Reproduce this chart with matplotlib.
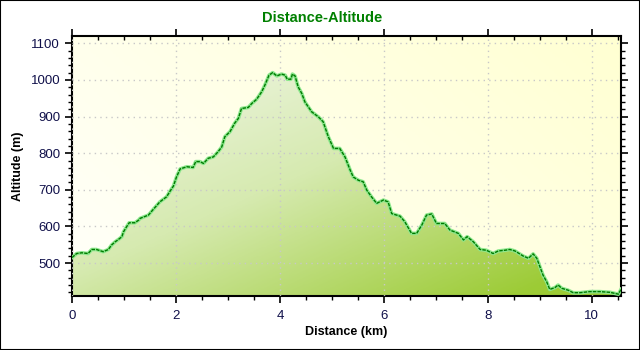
import matplotlib.pyplot as plt
import numpy as np
from matplotlib.colors import LinearSegmentedColormap
from matplotlib.patches import Polygon

# elevation profile: distance (km) and altitude (m)
distance = [0.0, 0.09, 0.19, 0.31, 0.38, 0.47, 0.60, 0.70, 0.76, 0.83, 0.89, 0.96,
            0.99, 1.05, 1.10, 1.21, 1.28, 1.31, 1.47, 1.56, 1.69, 1.82, 1.88, 1.95,
            2.01, 2.08, 2.21, 2.33, 2.38, 2.46, 2.53, 2.62, 2.72, 2.81, 2.88, 2.94,
            3.04, 3.13, 3.20, 3.26, 3.39, 3.46, 3.55, 3.65, 3.71, 3.79, 3.86, 3.94,
            4.03, 4.10, 4.14, 4.21, 4.24, 4.29, 4.35, 4.42, 4.48, 4.61, 4.74, 4.83,
            4.93, 5.03, 5.15, 5.25, 5.35, 5.41, 5.51, 5.60, 5.67, 5.76, 5.86, 5.99,
            6.08, 6.15, 6.31, 6.40, 6.53, 6.63, 6.73, 6.82, 6.92, 7.01, 7.17, 7.27,
            7.43, 7.53, 7.60, 7.72, 7.85, 7.97, 8.10, 8.20, 8.33, 8.42, 8.52, 8.68,
            8.78, 8.87, 8.94, 9.00, 9.06, 9.13, 9.19, 9.29, 9.35, 9.42, 9.54, 9.64,
            9.77, 9.96, 10.15, 10.35, 10.51, 10.56]
altitude = [515, 526, 528, 526, 537, 537, 531, 537, 549, 558, 564, 572,
            585, 599, 610, 610, 617, 622, 631, 646, 667, 681, 695, 710,
            735, 757, 763, 761, 777, 777, 772, 786, 790, 804, 817, 845,
            859, 882, 895, 922, 925, 936, 947, 968, 986, 1013, 1020, 1011,
            1016, 1013, 1002, 1002, 1016, 1011, 981, 963, 940, 913, 899, 886,
            845, 813, 813, 790, 754, 735, 726, 722, 699, 681, 663, 672,
            667, 635, 628, 613, 581, 581, 604, 631, 634, 608, 608, 590,
            581, 563, 572, 558, 537, 535, 526, 533, 535, 537, 533, 519,
            513, 525, 513, 490, 467, 449, 428, 433, 440, 431, 426, 419,
            419, 422, 422, 420, 415, 428]

x_max = 10.56
y_min, y_max = 410, 1120

fig = plt.figure(figsize=(6.4, 3.5), dpi=100)
fig.patch.set_facecolor('white')
fig.patches.append(plt.Rectangle((0, 0), 1, 1, transform=fig.transFigure,
                                 fill=False, edgecolor='black', linewidth=1.5))
ax = fig.add_axes([72 / 640, 1 - 296 / 350, 549 / 640, 260 / 350])

# background: soft diagonal gradient, cream to pale yellow
gx, gy = np.meshgrid(np.linspace(0, 1, 200), np.linspace(0, 1, 200))
bg_t = np.clip(0.65 * gx + 0.35 * gy, 0, 1)
bg_cmap = LinearSegmentedColormap.from_list('bg', ['#FFFFFA', '#FFFFD2'])
ax.imshow(bg_t, cmap=bg_cmap, extent=[0, x_max, y_min, y_max], origin='lower',
          aspect='auto', zorder=0)

# area fill: gradient from pale at the summit to green at bottom right
fill_t = np.clip(0.55 * gx + 0.6 * (1 - gy) - 0.05, 0, 1)
fill_cmap = LinearSegmentedColormap.from_list('fill', ['#F4F8EE', '#D6EAB0', '#9CCB35'])
im = ax.imshow(fill_t, cmap=fill_cmap, extent=[0, x_max, y_min, y_max],
               origin='lower', aspect='auto', zorder=1)
poly = Polygon(list(zip(distance, altitude)) + [(x_max, y_min), (0, y_min)],
               closed=True, facecolor='none', edgecolor='none')
ax.add_patch(poly)
im.set_clip_path(poly)

ax.plot(distance, altitude, color='#8EE88E', linewidth=2.6, zorder=3)
ax.plot(distance, altitude, color='#007A00', linewidth=1.0, zorder=4,
        dashes=(2.5, 0.8))

ax.set_xlim(0, x_max)
ax.set_ylim(y_min, y_max)
ax.set_xticks([0, 2, 4, 6, 8, 10])
ax.set_xticks(np.arange(0, x_max, 0.5), minor=True)
ax.set_yticks([500, 600, 700, 800, 900, 1000, 1100])
ax.set_yticks(np.arange(420, y_max, 20), minor=True)
ax.grid(True, which='major', color='#C8C8C8', linestyle=(0, (1, 3)), linewidth=1, zorder=2)
ax.set_axisbelow(False)

ax.tick_params(axis='both', which='major', length=5, width=1.2, direction='out',
               labelsize=9.5, labelcolor='#10104A')
ax.tick_params(axis='both', which='minor', length=3, width=1, direction='out')
ax.tick_params(axis='both', which='both', top=True, right=True)
for t in ax.xaxis.get_ticklines(minor=False)[1::2] + ax.xaxis.get_ticklines(minor=True)[1::2]:
    t.set_marker(3)
for t in ax.yaxis.get_ticklines(minor=False)[1::2] + ax.yaxis.get_ticklines(minor=True)[1::2]:
    t.set_marker(1)
for lab in ax.get_xticklabels() + ax.get_yticklabels():
    lab.set_family('Liberation Sans')
ax.tick_params(axis='x', pad=5)

for sp in ax.spines.values():
    sp.set_linewidth(1.5)

ax.set_xlabel('Distance (km)', fontsize=9, fontweight='bold', family='Liberation Sans',
              labelpad=3)
ax.set_ylabel('Altitude (m)', fontsize=9, fontweight='bold', family='Liberation Sans',
              labelpad=5)
fig.text(322 / 640, 1 - 18 / 350, 'Distance-Altitude', ha='center', va='center',
         fontsize=10.5, fontweight='bold', color='#008000', family='Liberation Sans')

fig.savefig('out.png', dpi=100)
